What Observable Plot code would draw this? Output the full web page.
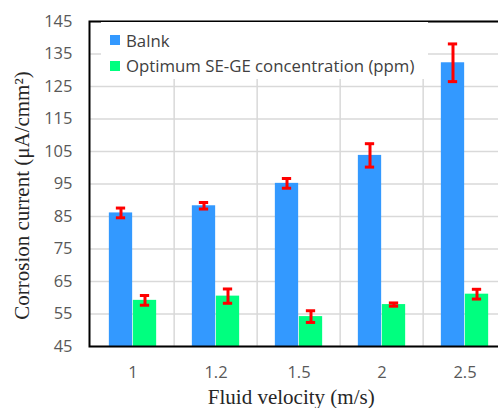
<!DOCTYPE html>
<html>
<head>
<meta charset="utf-8">
<script src="https://cdn.jsdelivr.net/npm/d3@7"></script>
<script src="https://cdn.jsdelivr.net/npm/@observablehq/plot@0.6"></script>
<style>
  html, body { margin: 0; padding: 0; background: #fff; }
  #wrap { position: relative; width: 498px; height: 408px; overflow: hidden; }
  #legend { position: absolute; left: 101px; top: 22px; width: 327px; height: 57px; background: #fff;
            font-family: "Open Sans", sans-serif; font-size: 16.8px; color: #404040; }
  .item { position: absolute; left: 9px; display: flex; align-items: center; height: 20px; white-space: nowrap; }
  .sw { width: 10px; height: 10px; margin-right: 6px; }
</style>
</head>
<body>
<div id="wrap"><div id="chart"></div><div id="legend"></div></div>
<script>
const velocities = ["1", "1.2", "1.5", "2", "2.5"];
const seriesNames = ["Balnk", "Optimum SE-GE concentration (ppm)"];
const blankValues = [86.1, 88.3, 95.2, 103.8, 132.3];
const blankErrors = [1.5, 1.0, 1.5, 3.6, 5.8];
const optimumValues = [59.2, 60.5, 54.2, 57.9, 61.1];
const optimumErrors = [1.5, 2.2, 1.8, 0.5, 1.5];
const yTicks = [45, 55, 65, 75, 85, 95, 105, 115, 125, 135, 145];
const colors = ["#3399ff", "#00ff7f"];
const xLabel = "Fluid velocity (m/s)";
const yLabel = "Corrosion current (μA/cmm²)";

const blank = velocities.map((v, i) => ({velocity: v, value: blankValues[i], err: blankErrors[i]}));
const optimum = velocities.map((v, i) => ({velocity: v, value: optimumValues[i], err: optimumErrors[i]}));

const W = 498, H = 408, mL = 89, mR = -9.5;
const bw = (W - mL - mR) / velocities.length;  // band width
const barW = 24, capW = 10;
const half = bw / 2;

function errorMarks(data, offset) {
  const cL = half + offset - capW / 2, cR = bw - (half + offset + capW / 2);
  return [
    Plot.ruleX(data, {x: "velocity", y1: d => d.value - d.err, y2: d => d.value + d.err, stroke: "#ff0000", strokeWidth: 3, dx: offset}),
    Plot.tickY(data, {x: "velocity", y: d => d.value + d.err, stroke: "#ff0000", strokeWidth: 3, insetLeft: cL, insetRight: cR}),
    Plot.tickY(data, {x: "velocity", y: d => d.value - d.err, stroke: "#ff0000", strokeWidth: 3, insetLeft: cL, insetRight: cR})
  ];
}

const chart = Plot.plot({
  width: W, height: H,
  marginLeft: mL, marginRight: mR, marginTop: 21, marginBottom: 62,
  style: {color: "#595959", background: "transparent"},
  x: {domain: velocities, padding: 0},
  y: {domain: [yTicks[0], yTicks[yTicks.length - 1]]},
  marks: [
    Plot.ruleY(yTicks, {stroke: "#d9d9d9", strokeWidth: 1.5}),
    Plot.ruleX(velocities.slice(1), {x: d => d, stroke: "#d9d9d9", strokeWidth: 1.5, dx: -half}),
    Plot.barY(blank, {x: "velocity", y1: yTicks[0], y2: "value", fill: colors[0], insetLeft: half - barW, insetRight: half}),
    Plot.barY(optimum, {x: "velocity", y1: yTicks[0], y2: "value", fill: colors[1], insetLeft: half, insetRight: half - barW}),
    ...errorMarks(blank, -barW / 2),
    ...errorMarks(optimum, barW / 2),
    Plot.frame({stroke: "black", strokeWidth: 2}),
    Plot.axisY({ticks: yTicks, tickSize: 0, tickPadding: 17, fontSize: 16.5, fontFamily: "Open Sans", label: null}),
    Plot.axisX({tickSize: 0, tickPadding: 20, fontSize: 16.5, fontFamily: "Open Sans", label: null}),
    Plot.text([yLabel], {text: d => d, frameAnchor: "left", textAnchor: "middle", lineAnchor: "middle", rotate: -90, dx: -67, dy: 11.5, fontSize: 21, fontFamily: "Liberation Serif", fill: "#262626"}),
    Plot.text([xLabel], {text: d => d, frameAnchor: "bottom", textAnchor: "middle", lineAnchor: "middle", dx: -7.5, dy: 51, fontSize: 21, fontFamily: "Liberation Serif", fill: "#262626"})
  ]
});
document.getElementById("chart").appendChild(chart);

const legend = document.getElementById("legend");
seriesNames.forEach((name, i) => {
  const item = document.createElement("div");
  item.className = "item";
  item.style.top = (8 + i * 25.5) + "px";
  const sw = document.createElement("span");
  sw.className = "sw";
  sw.style.background = colors[i];
  const label = document.createElement("span");
  label.textContent = name;
  item.appendChild(sw);
  item.appendChild(label);
  legend.appendChild(item);
});
</script>
</body>
</html>
